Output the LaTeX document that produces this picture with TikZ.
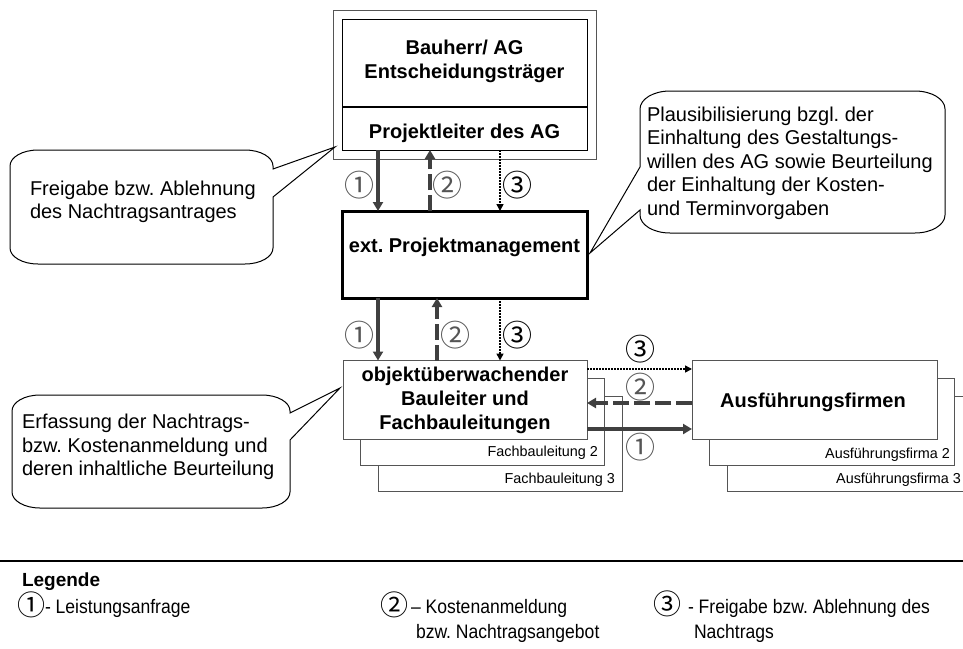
\documentclass[tikz,border=0pt]{standalone}
\usepackage{fontspec}
\setmainfont{Liberation Sans}
\newfontfamily\circfont{Noto Sans CJK JP}
\newfontfamily\legfont[FakeStretch=0.9]{Liberation Sans}
\usetikzlibrary{arrows.meta}
\definecolor{arrgray}{HTML}{404040}
\definecolor{boxgray}{HTML}{555555}
\definecolor{numgray}{HTML}{555555}
\frenchspacing
\begin{document}
\begin{tikzpicture}[x=1pt,y=-1pt,
  every node/.style={inner sep=0pt, outer sep=0pt},
  box/.style={draw=black, line width=1pt, fill=white},
  backbox/.style={draw=boxgray, line width=1pt, fill=white},
  bigtext/.style={font=\frenchspacing\fontsize{20}{24}\selectfont\bfseries, align=center},
  calltext/.style={font=\frenchspacing\fontsize{20}{23.5}\selectfont, align=left, anchor=west},
  small/.style={font=\fontsize{14.4}{16}\selectfont, anchor=east},
  circ/.style={font=\circfont\fontsize{30}{30}\selectfont},
  legcirc/.style={font=\circfont\fontsize{28}{28}\selectfont},
  legtext/.style={font=\frenchspacing\legfont\fontsize{19.5}{22}\selectfont, anchor=west},
  solidarr/.style={draw=arrgray, line width=3.5pt, -{Triangle[length=9pt,width=10pt]}},
  dasharr/.style={draw=arrgray, line width=3.5pt, dash pattern=on 16pt off 5pt, -{Triangle[length=9pt,width=10pt]}},
  dotarr/.style={draw=black, line width=1.5pt, dash pattern=on 1.5pt off 1.5pt, -{Triangle[length=7pt,width=7pt]}},
  callout/.style={draw=black, line width=1pt, fill=white}]
\useasboundingbox (0,0) rectangle (963,648);
\fill[white] (0,0) rectangle (963,648);
\clip (0,0) rectangle (963,648);

% ---------- top box ----------
\node[draw=boxgray, line width=1pt, minimum width=263pt, minimum height=149pt] (agouter) at (464.5,84.5) {};
\node[box, minimum width=245pt, minimum height=131pt] (ag) at (464.5,84.5) {};
\draw[line width=2pt] ([yshift=-22.5pt]ag.west) -- ([yshift=-22.5pt]ag.east);
\node[bigtext] (agtitle) at (464.5,61) {Bauherr/ AG\\Entscheidungsträger};
\node[bigtext] (pl) at (464.5,133) {Projektleiter des AG};

% ---------- project management ----------
\node[box, line width=3pt, minimum width=245pt, minimum height=87pt] (pm) at (464.5,254.5) {};
\node[bigtext] (pmtext) at (464.5,247) {ext. Projektmanagement};

% ---------- Bauleiter stack ----------
\node[backbox, minimum width=244pt, minimum height=95pt] (fb3) at (500,443.5) {};
\node[small] (fb3l) at (615,480) {Fachbauleitung 3};
\node[backbox, minimum width=244pt, minimum height=87pt] (fb2) at (482,421.5) {};
\node[small] (fb2l) at (598,453) {Fachbauleitung 2};
\node[box, draw=boxgray, minimum width=244pt, minimum height=79pt, bigtext] (obj) at (465,400) {objektüberwachender\\Bauleiter und\\Fachbauleitungen};

% ---------- Firmen stack ----------
\node[backbox, minimum width=245pt, minimum height=95pt] (af3) at (849.5,443.5) {};
\node[small] (af3l) at (961,480) {Ausführungsfirma 3};
\node[backbox, minimum width=245pt, minimum height=87pt] (af2) at (831.5,421.5) {};
\node[small] (af2l) at (950,455) {Ausführungsfirma 2};
\node[box, draw=boxgray, minimum width=245pt, minimum height=79pt] (af) at (814.5,399.5) {};
\node[bigtext] (aftext) at (813,402) {Ausführungsfirmen};

% ---------- vertical arrows ----------
\coordinate (cx1) at (378,0);
\coordinate (cx2) at (430,0);
\coordinate (cx2b) at (437,0);
\coordinate (cx3) at (500,0);
\draw[solidarr] (ag.south -| cx1) -- (pm.north -| cx1);
\draw[dasharr] (pm.north -| cx2) -- (ag.south -| cx2);
\draw[dotarr] (ag.south -| cx3) -- (pm.north -| cx3);
\node[circ, text=numgray] (n1a) at (359,185) {①};
\node[circ, text=numgray] (n2a) at (447,185) {②};
\node[circ] (n3a) at (517,185) {③};

\draw[solidarr] (pm.south -| cx1) -- (obj.north -| cx1);
\draw[dasharr] (obj.north -| cx2b) -- (pm.south -| cx2b);
\draw[dotarr] (pm.south -| cx3) -- (obj.north -| cx3);
\node[circ, text=numgray] (n1b) at (359,335) {①};
\node[circ, text=numgray] (n2b) at (455,335) {②};
\node[circ] (n3b) at (517,335) {③};

% ---------- horizontal arrows ----------
\coordinate (hy3) at (0,369);
\coordinate (hy2) at (0,403);
\coordinate (hy1) at (0,429);
\draw[dotarr] (obj.east |- hy3) -- (af.west |- hy3);
\draw[dasharr] (af.west |- hy2) -- (obj.east |- hy2);
\draw[solidarr] (obj.east |- hy1) -- (af.west |- hy1);
\node[circ] (n3c) at (640,349) {③};
\node[circ, text=numgray] (n2c) at (640,387) {②};
\node[circ, text=numgray] (n1c) at (640,447) {①};

% ---------- callouts ----------
\draw[callout] (38,150) -- (245,150) arc[start angle=-90,end angle=0,x radius=28,y radius=16]
  -- (273,169) -- (335,147) -- (273,197) -- (273,248)
  arc[start angle=0,end angle=90,x radius=28,y radius=16] -- (38,264)
  arc[start angle=90,end angle=180,x radius=28,y radius=16] -- (10,166)
  arc[start angle=180,end angle=270,x radius=28,y radius=16] -- cycle;
\node[calltext] (c1) at (30,202) {Freigabe bzw. Ablehnung\\des Nachtragsantrages};

\draw[callout] (670,91) -- (915,91) arc[start angle=-90,end angle=0,x radius=30,y radius=18]
  -- (945,215) arc[start angle=0,end angle=90,x radius=30,y radius=18]
  -- (670,233) arc[start angle=90,end angle=180,x radius=30,y radius=18]
  -- (640,210) -- (590,253) -- (640,167) -- (640,109)
  arc[start angle=180,end angle=270,x radius=30,y radius=18] -- cycle;
\node[calltext] (c2) at (647,163) {Plausibilisierung bzgl. der\\Einhaltung des Gestaltungs-\\willen des AG sowie Beurteilung\\der Einhaltung der Kosten-\\und Terminvorgaben};

\draw[callout] (40,395) -- (262,395) arc[start angle=-90,end angle=0,x radius=28,y radius=16]
  -- (290,413) -- (340,388) -- (290,440) -- (290,492)
  arc[start angle=0,end angle=90,x radius=28,y radius=16] -- (40,508)
  arc[start angle=90,end angle=180,x radius=28,y radius=16] -- (12,411)
  arc[start angle=180,end angle=270,x radius=28,y radius=16] -- cycle;
\node[calltext] (c3) at (22,447) {Erfassung der Nachtrags-\\bzw. Kostenanmeldung und\\deren inhaltliche Beurteilung};

% ---------- legend ----------
\coordinate (legl) at (0,561);
\coordinate (legr) at (963,561);
\draw[line width=1.5pt] (legl) -- (legr);
\node[anchor=west, font=\fontsize{19}{22}\selectfont\bfseries] (leg) at (22,582) {Legende};
\node[legcirc] (l1) at (31,605) {①};
\node[legtext] (l1t) at (45,608) {- Leistungsanfrage};
\node[legcirc] (l2) at (394,605) {②};
\node[legtext] (l2t) at (411,608) {– Kostenanmeldung};
\node[legtext] (l2u) at (416,633) {bzw. Nachtragsangebot};
\node[legcirc] (l3) at (667,604) {③};
\node[legtext] (l3t) at (688,608) {- Freigabe bzw. Ablehnung des};
\node[legtext] (l3u) at (694,633) {Nachtrags};
\end{tikzpicture}
\end{document}
